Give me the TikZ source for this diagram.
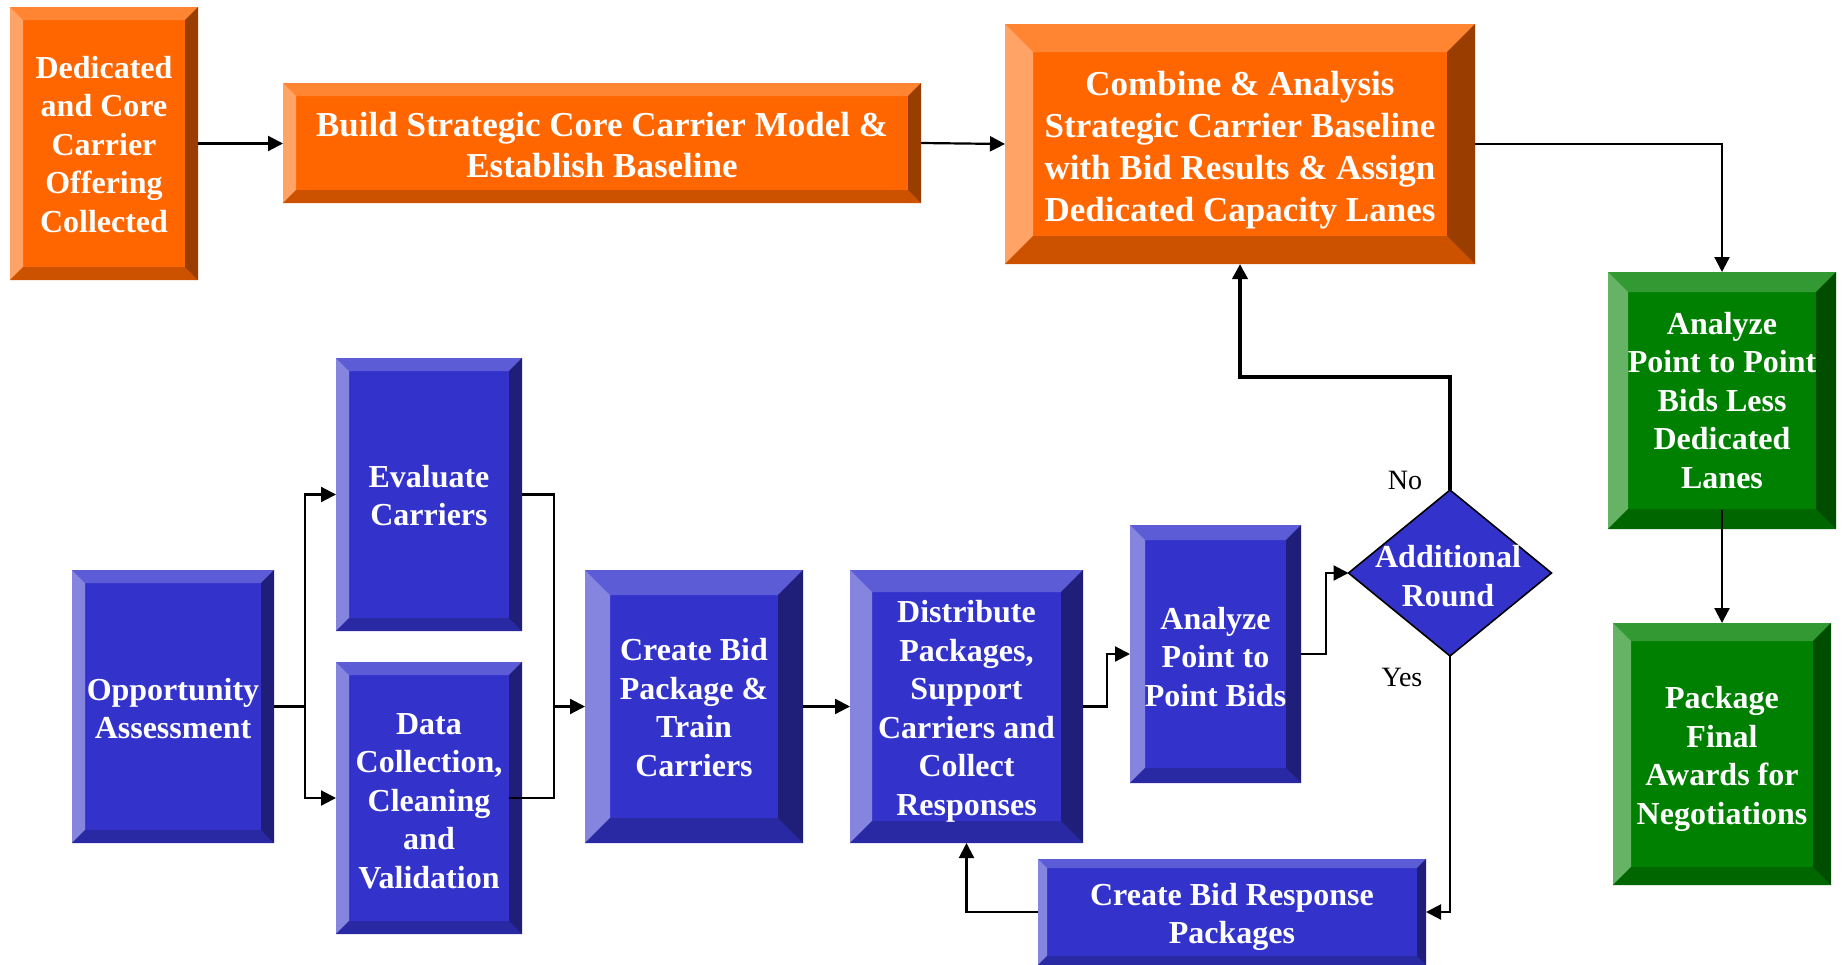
\documentclass[tikz,border=0pt]{standalone}
\usepackage{fontspec}
\setmainfont{Liberation Serif}
\usetikzlibrary{arrows.meta,shapes.geometric,calc}

% palettes for the bevelled boxes: face, top, left, bottom, right
\definecolor{orgFace}{HTML}{FF6600}
\definecolor{orgTop}{HTML}{FF8533}
\definecolor{orgLeft}{HTML}{FFA366}
\definecolor{orgBot}{HTML}{CC5200}
\definecolor{orgRight}{HTML}{993D00}
\definecolor{bluFace}{HTML}{3333CC}
\definecolor{bluTop}{HTML}{5C5CD6}
\definecolor{bluLeft}{HTML}{8585E0}
\definecolor{bluBot}{HTML}{2929A3}
\definecolor{bluRight}{HTML}{1F1F7A}
\definecolor{grnFace}{HTML}{008000}
\definecolor{grnTop}{HTML}{339933}
\definecolor{grnLeft}{HTML}{66B366}
\definecolor{grnBot}{HTML}{006600}
\definecolor{grnRight}{HTML}{004D00}
\colorlet{bvTop}{orgTop}
\colorlet{bvLeft}{orgLeft}
\colorlet{bvBot}{orgBot}
\colorlet{bvRight}{orgRight}
\def\bvw{13}

\begin{document}
\begin{tikzpicture}[x=1pt,y=-1pt,
  pal/.code={\colorlet{bvTop}{#1Top}\colorlet{bvLeft}{#1Left}%
             \colorlet{bvBot}{#1Bot}\colorlet{bvRight}{#1Right}},
  bw/.code={\def\bvw{#1}},
  bevelbox/.style={rectangle, inner sep=0pt, outer sep=0pt,
    path picture={
      \coordinate (bvSW) at (path picture bounding box.south west);
      \coordinate (bvNE) at (path picture bounding box.north east);
      \coordinate (bvNW) at (bvSW |- bvNE);
      \coordinate (bvSE) at (bvNE |- bvSW);
      \coordinate (iNW) at ([shift={(\bvw pt,-\bvw pt)}]bvNW);
      \coordinate (iNE) at ([shift={(-\bvw pt,-\bvw pt)}]bvNE);
      \coordinate (iSE) at ([shift={(-\bvw pt,\bvw pt)}]bvSE);
      \coordinate (iSW) at ([shift={(\bvw pt,\bvw pt)}]bvSW);
      \fill[bvTop] (bvNW) -- (bvNE) -- (iNE) -- (iNW) -- cycle;
      \fill[bvLeft] (bvNW) -- (iNW) -- (iSW) -- (bvSW) -- cycle;
      \fill[bvBot] (bvSW) -- (iSW) -- (iSE) -- (bvSE) -- cycle;
      \fill[bvRight] (bvNE) -- (bvSE) -- (iSE) -- (iNE) -- cycle;
    }},
  orangebox/.style={pal=org, fill=orgFace, bevelbox},
  bluebox/.style={pal=blu, fill=bluFace, bevelbox},
  greenbox/.style={pal=grn, fill=grnFace, bevelbox},
  decision/.style={diamond, draw=black, line width=1.6pt, fill=bluFace,
    inner sep=0pt, outer sep=0pt},
  boxtext/.style={text=white, align=center, inner sep=0pt,
    font=\bfseries\fontsize{32}{38.5}\selectfont},
  bigtext/.style={boxtext, font=\bfseries\fontsize{35}{42}\selectfont},
  answer/.style={text=black, inner sep=0pt,
    font=\fontsize{28}{32}\selectfont},
  conn/.style={draw=black, line width=2.2pt},
  arr/.style={conn, -{Triangle[length=15pt,width=15pt]}},
]
\useasboundingbox (0,0) rectangle (1843,964);
\fill[white] (0,0) rectangle (1843,964);

% top row
\node[orangebox, bw=13, minimum width=188pt, minimum height=273pt]
  (ded) at (104,143.5) {};
\node[boxtext] (dedt) at ([yshift=-1pt]ded.center)
  {Dedicated\\and Core\\Carrier\\Offering\\Collected};
\node[orangebox, bw=13, minimum width=638pt, minimum height=120pt]
  (build) at (602,143) {};
\node[bigtext, font=\bfseries\fontsize{35}{41}\selectfont]
  (buildt) at ([yshift=-2pt]build.center)
  {Build Strategic Core Carrier Model \&\\Establish Baseline};
\node[orangebox, bw=28, minimum width=470pt, minimum height=240pt]
  (comb) at (1240,144) {};
\node[bigtext] (combt) at ([yshift=-6pt]comb.center)
  {Combine \& Analysis\\Strategic Carrier Baseline\\with Bid Results \& Assign\\Dedicated Capacity Lanes};

% right column
\node[greenbox, bw=20, minimum width=228pt, minimum height=257pt]
  (g1) at (1722,400.5) {};
\node[boxtext] (g1t) at (g1.center)
  {Analyze\\Point to Point\\Bids Less\\Dedicated\\Lanes};
\node[greenbox, bw=18, minimum width=218pt, minimum height=262pt]
  (g2) at (1722,754) {};
\node[boxtext] (g2t) at ([yshift=-5pt]g2.center)
  {Package\\Final\\Awards for\\Negotiations};

% bid process
\node[bluebox, bw=13, minimum width=202pt, minimum height=273pt]
  (opp) at (173,706.5) {};
\node[boxtext] (oppt) at ([yshift=-2pt]opp.center) {Opportunity\\Assessment};
\node[bluebox, bw=13, minimum width=186pt, minimum height=273pt]
  (eval) at (429,494.5) {};
\node[boxtext] (evalt) at ([yshift=-1pt]eval.center) {Evaluate\\Carriers};
\node[bluebox, bw=13, minimum width=186pt, minimum height=272pt]
  (data) at (429,798) {};
\node[boxtext] (datat) at ([yshift=-3pt]data.center)
  {Data\\Collection,\\Cleaning\\and\\Validation};
\node[bluebox, bw=25, minimum width=218pt, minimum height=273pt]
  (cbid) at (694,706.5) {};
\node[boxtext] (cbidt) at ([yshift=-1pt]cbid.center)
  {Create Bid\\Package \&\\Train\\Carriers};
\node[bluebox, bw=22, minimum width=233pt, minimum height=273pt]
  (dist) at (966.5,706.5) {};
\node[boxtext] (distt) at ([yshift=-5pt]dist.center)
  {Distribute\\Packages,\\Support\\Carriers and\\Collect\\Responses};
\node[bluebox, bw=15, minimum width=171pt, minimum height=258pt]
  (ap) at (1215.5,654) {};
\node[boxtext] (apt) at ([yshift=-3pt]ap.center) {Analyze\\Point to\\Point Bids};
\node[decision, minimum width=203pt, minimum height=166pt]
  (dia) at (1450,573) {};
\node[boxtext] (diat) at (1448,576) {Additional\\Round};
\node[bluebox, bw=9, minimum width=388pt, minimum height=106pt]
  (resp) at (1232,912) {};
\node[boxtext] (respt) at ([yshift=-5pt]resp.center)
  {Create Bid Response\\Packages};

\node[answer] (no) at (1405,480) {No};
\node[answer] (yes) at (1402,677) {Yes};

% connectors
\draw[arr] (ded.east) -- (ded.east -| build.west);
\draw[arr] (build.east) -- (comb.west);
\draw[arr] (comb.east) -| (g1.north);
\draw[arr] ([yshift=19pt]g1.south) -- (g2.north);

\coordinate (split) at ($(opp.east)+(31,0)$);
\draw[conn] (opp.east) -- (split);
\draw[arr] (split) |- (eval.west);
\draw[arr] (split) |- (data.west);

\coordinate (join) at ($(cbid.west)+(-31,0)$);
\draw[conn] ([xshift=-13pt]data.east) -| (join);
\draw[arr] (eval.east) -| (join) -- (cbid.west);

\draw[arr] (cbid.east) -- (dist.west);
\draw[arr] (dist.east) -- ++(24,0) |- (ap.west);
\draw[arr] (ap.east) -- ++(25,0) |- (dia.west);
\draw[arr, line width=4pt] (dia.north) -- ++(0,-113) -| (comb.south);
\draw[arr] (dia.south) |- (resp.east);
\draw[arr] (resp.west) -| (dist.south);
\end{tikzpicture}
\end{document}
